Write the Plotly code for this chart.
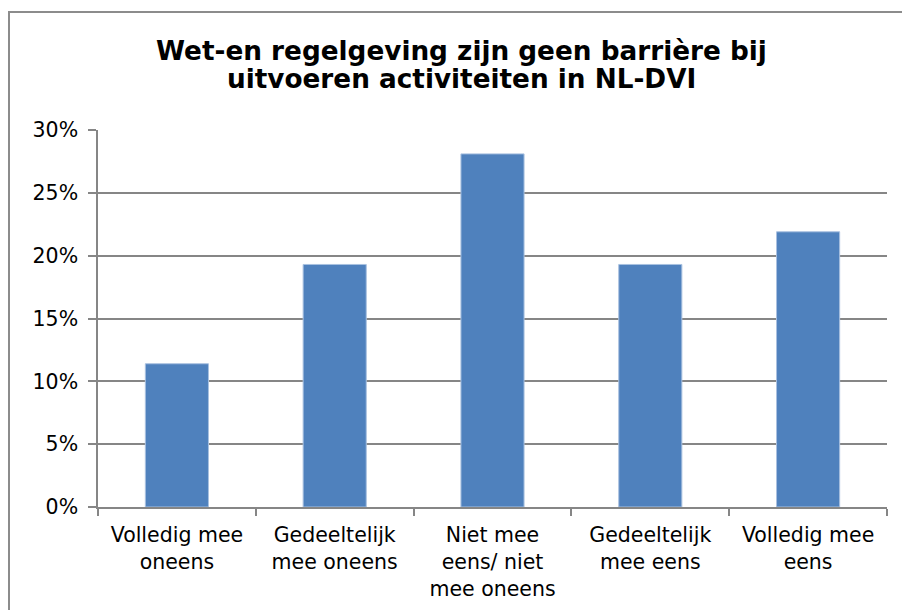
import plotly.graph_objects as go

categories = ["Volledig mee<br>oneens", "Gedeeltelijk<br>mee oneens", "Niet mee<br>eens/ niet<br>mee oneens",
              "Gedeeltelijk<br>mee eens", "Volledig mee<br>eens"]
values = [0.114, 0.193, 0.281, 0.193, 0.219]
y_ticks = [0, 0.05, 0.10, 0.15, 0.20, 0.25, 0.30]
y_tick_labels = ["0%", "5%", "10%", "15%", "20%", "25%", "30%"]
title_lines = ["Wet-en regelgeving zijn geen barrière bij", "uitvoeren activiteiten in NL-DVI"]

font_family = "DejaVu Sans, Verdana, sans-serif"

# plot area in pixels: x 98..887, y 130..507
PL, PR, PT, PB = 98, 887, 130, 507
W, H = 902, 610

def px_x(x):
    return (x - PL) / (PR - PL)

def px_y(y):
    return (PB - y) / (PB - PT)

fig = go.Figure(go.Bar(
    x=categories, y=values,
    marker=dict(color="#4F81BD", line=dict(color="#A9C1E0", width=1)),
    hoverinfo="skip",
))

annotations = []
for text, yc in zip(title_lines, [51.5, 79.5]):
    annotations.append(dict(
        text="<b>" + text + "</b>", xref="paper", yref="paper",
        x=px_x(461), y=px_y(yc), xanchor="center", yanchor="middle",
        showarrow=False, font=dict(family=font_family, size=26.3, color="black"),
    ))

fig.update_layout(
    width=W, height=H,
    margin=dict(l=PL, r=W - PR, t=PT, b=H - PB, autoexpand=False),
    paper_bgcolor="white", plot_bgcolor="white",
    bargap=0.6,
    showlegend=False,
    font=dict(family=font_family, size=20.5, color="black"),
    annotations=annotations,
    shapes=[dict(type="rect", xref="paper", yref="paper",
                 x0=px_x(9), x1=px_x(915),
                 y0=px_y(625), y1=px_y(12),
                 line=dict(color="#8C8C8C", width=2), fillcolor="rgba(0,0,0,0)", layer="below")],
)

fig.update_xaxes(
    showline=True, linecolor="#868686", linewidth=1.5,
    tickson="boundaries", ticks="outside", ticklen=7, tickcolor="#868686", tickwidth=1.5,
    showgrid=False, tickangle=0, ticklabelstandoff=9, automargin=False,
    tickfont=dict(family=font_family, size=20.5, color="black"),
)
fig.update_yaxes(
    range=[0, 0.30], tickvals=y_ticks, ticktext=y_tick_labels,
    showline=True, linecolor="#868686", linewidth=1.5,
    ticks="outside", ticklen=8, tickcolor="#868686", tickwidth=1.5,
    showgrid=True, gridcolor="#868686", gridwidth=1.5,
    zeroline=False, ticklabelstandoff=6, automargin=False,
    tickfont=dict(family=font_family, size=20.5, color="black"),
)

fig.write_html("out.html", config={"displayModeBar": False},
               post_script="document.body.style.margin='0';")
